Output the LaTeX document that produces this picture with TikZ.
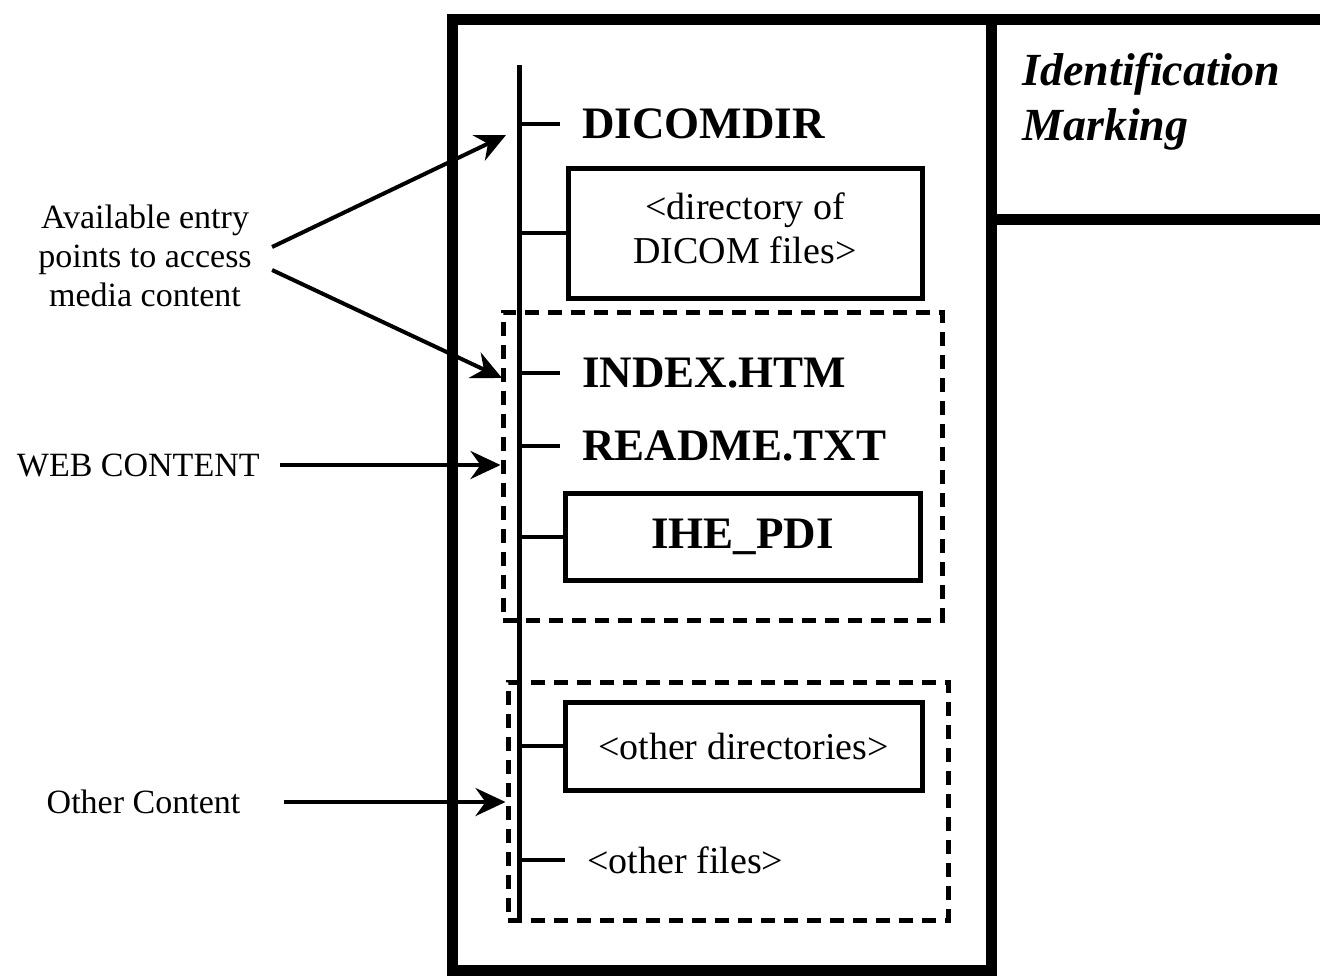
\documentclass[tikz,border=0pt]{standalone}
\usepackage{fontspec}
\setmainfont{Liberation Serif}
\usetikzlibrary{arrows.meta}
\begin{document}
\begin{tikzpicture}[x=0.5pt,y=-0.5pt,
  frame/.style={line width=5.5pt},
  trunkline/.style={line width=2.5pt},
  tickline/.style={line width=2pt},
  arrowline/.style={line width=2pt,-{Stealth[length=15pt,width=14pt,inset=5pt]}},
  fname/.style={font=\fontsize{22.5}{27}\selectfont\bfseries, anchor=west, inner xsep=11pt, inner ysep=0pt},
  plainname/.style={font=\fontsize{19}{22}\selectfont, anchor=west, inner xsep=11pt, inner ysep=0pt},
  dirbox/.style={draw, line width=2.5pt, align=center, inner sep=0pt},
  group/.style={draw, line width=2.5pt, dash pattern=on 7pt off 4.5pt, inner sep=0pt},
  lbl/.style={font=\fontsize{17}{19.5}\selectfont, align=center, inner sep=0pt}
]
\useasboundingbox (0,0) rectangle (1320,975);

% outer frame and identification area
\draw[frame] (1320,19) -- (452,19) -- (452,970) -- (991,970) -- (991,19);
\draw[frame] (991,219) -- (1320,219);
\node[anchor=west, inner sep=0pt, align=left, font=\fontsize{23}{27.5}\selectfont\bfseries\itshape] (idmark) at (1022,102) {Identification\\Marking};

% groups
\node[group, minimum width=219.5pt, minimum height=154pt] (web) at (722.5,466) {};
\node[group, minimum width=220pt, minimum height=119pt] (other) at (728,801) {};

% tree entries
\node[fname] (dicomdir) at (560,124) {DICOMDIR};
\node[dirbox, minimum width=177pt, minimum height=65pt, font=\fontsize{19}{22}\selectfont] (dicomfiles) at (745,233) {\raisebox{3pt}{\begin{tabular}{@{}c@{}}<directory of\\DICOM files>\end{tabular}}};
\node[fname] (index) at (560,373) {INDEX.HTM};
\node[fname] (readme) at (560,446) {README.TXT};
\node[dirbox, minimum width=177.5pt, minimum height=43.5pt, font=\fontsize{22.5}{27}\selectfont\bfseries] (ihepdi) at (742.5,536.5) {IHE\_PDI};
\node[dirbox, minimum width=178.5pt, minimum height=44pt, font=\fontsize{19}{22}\selectfont] (otherdirs) at (743.5,746) {<other directories>};
\node[plainname] (otherfiles) at (565,860) {<other files>};

% trunk and ticks
\coordinate (ttop) at (519,65);
\coordinate (tbot) at (519,920);
\draw[trunkline] (ttop) -- (tbot);
\foreach \n in {dicomdir,dicomfiles,index,readme,ihepdi,otherdirs,otherfiles}
  \draw[tickline] (ttop |- \n.west) -- (\n.west);

% left labels
\node[lbl] (entry) at (145,256) {Available entry\\points to access\\media content};
\node[lbl, anchor=east] (webcontent) at (260,465) {WEB CONTENT};
\node[lbl] (othercontent) at (143.5,802) {Other Content};

\coordinate (entrydicom) at (506,135);
\coordinate (entryindex) at (502,378);
\draw[arrowline] ([xshift=10pt,yshift=4.5pt]entry.east) -- (entrydicom);
\draw[arrowline] ([xshift=10pt,yshift=-7pt]entry.east) -- (entryindex);
\draw[arrowline] ([xshift=10pt]webcontent.east) -- (webcontent.east -| web.west);
\draw[arrowline] ([xshift=21.5pt]othercontent.east) -- (othercontent.east -| other.west);
\end{tikzpicture}
\end{document}
